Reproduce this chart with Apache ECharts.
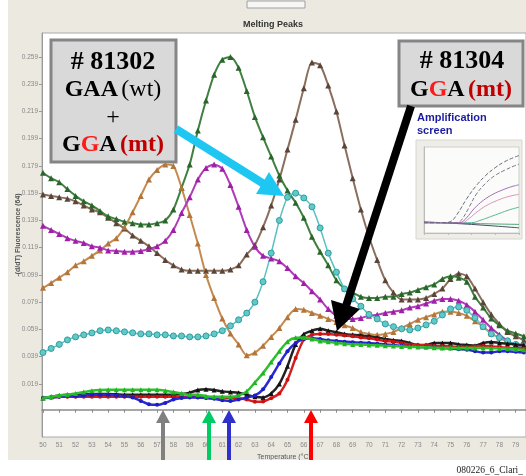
<!DOCTYPE html>
<html><head><meta charset="utf-8">
<script src="https://cdn.jsdelivr.net/npm/echarts@6/dist/echarts.min.js"></script>
<style>html,body{margin:0;padding:0;background:#fff}#c{width:526px;height:476px}</style>
</head><body><div id="c"></div>
<script>
// Temperature (°C) sample points
var temps = [50,50.5,51,51.5,52,52.5,53,53.5,54,54.5,55,55.5,56,56.5,57,57.5,58,58.5,59,59.5,
  60,60.5,61,61.5,62,62.5,63,63.5,64,64.5,65,65.5,66,66.5,67,67.5,68,68.5,69,69.5,
  70,70.5,71,71.5,72,72.5,73,73.5,74,74.5,75,75.5,76,76.5,77,77.5,78,78.5,79,79.5];
var xTicks = [50,51,52,53,54,55,56,57,58,59,60,61,62,63,64,65,66,67,68,69,70,71,72,73,74,75,76,77,78,79];
var yTicks = [0.019,0.039,0.059,0.079,0.099,0.119,0.139,0.159,0.179,0.199,0.219,0.239,0.259];

var darkGreen = [0.174,0.170,0.167,0.162,0.157,0.153,0.150,0.146,0.142,0.140,0.138,0.137,0.136,0.136,0.137,0.139,0.147,0.163,0.180,0.205,
  0.227,0.246,0.257,0.259,0.251,0.234,0.215,0.200,0.186,0.172,0.161,0.152,0.141,0.127,0.116,0.106,0.095,0.089,0.086,0.083,
  0.082,0.082,0.083,0.083,0.085,0.086,0.088,0.090,0.092,0.096,0.098,0.097,0.094,0.083,0.075,0.067,0.062,0.058,0.056,0.054];
var darkBrown = [0.158,0.157,0.156,0.155,0.153,0.150,0.147,0.145,0.141,0.137,0.133,0.128,0.124,0.120,0.115,0.110,0.106,0.103,0.102,0.102,
  0.102,0.102,0.102,0.103,0.106,0.114,0.121,0.134,0.150,0.169,0.191,0.213,0.236,0.255,0.253,0.238,0.219,0.194,0.170,0.147,
  0.127,0.110,0.095,0.086,0.081,0.081,0.081,0.082,0.085,0.089,0.096,0.100,0.098,0.089,0.079,0.070,0.063,0.057,0.054,0.051];
var orange = [0.0895,0.093,0.097,0.101,0.106,0.109,0.113,0.117,0.122,0.126,0.134,0.145,0.157,0.169,0.176,0.180,0.179,0.163,0.143,0.122,
  0.099,0.082,0.067,0.056,0.048,0.040,0.042,0.047,0.0535,0.060,0.068,0.074,0.0735,0.071,0.069,0.0667,0.0645,0.062,0.060,0.057,
  0.0557,0.055,0.0557,0.057,0.060,0.063,0.066,0.068,0.070,0.072,0.072,0.071,0.069,0.065,0.061,0.056,0.053,0.050,0.048,0.046];
var purple = [0.135,0.132,0.129,0.126,0.124,0.1225,0.120,0.119,0.117,0.1166,0.116,0.116,0.1166,0.118,0.120,0.124,0.132,0.1445,0.156,0.169,
  0.1775,0.180,0.177,0.165,0.149,0.132,0.1196,0.113,0.111,0.109,0.104,0.098,0.093,0.087,0.081,0.074,0.069,0.0667,0.0667,0.0674,
  0.069,0.0697,0.071,0.072,0.073,0.075,0.076,0.078,0.080,0.0814,0.0814,0.080,0.077,0.072,0.066,0.060,0.055,0.0506,0.047,0.0447];
var cyan = [0.042,0.045,0.048,0.0513,0.0535,0.055,0.0564,0.058,0.0586,0.058,0.0572,0.0565,0.0557,0.0557,0.055,0.055,0.0542,0.0542,0.0535,0.0535,
  0.0542,0.0557,0.058,0.0616,0.066,0.071,0.079,0.094,0.115,0.139,0.156,0.159,0.1555,0.149,0.1335,0.115,0.101,0.0887,0.0814,0.076,
  0.070,0.0667,0.063,0.061,0.0594,0.0586,0.060,0.0623,0.065,0.0696,0.074,0.0755,0.073,0.0675,0.061,0.0557,0.053,0.0506,0.048,0.047];
var green = [0.0087,0.0095,0.0105,0.011,0.012,0.013,0.014,0.0145,0.0146,0.0146,0.0146,0.0146,0.0146,0.0146,0.0146,0.014,0.013,0.012,0.011,0.011,
  0.010,0.0095,0.0095,0.0095,0.0105,0.0135,0.020,0.027,0.035,0.043,0.050,0.0528,0.053,0.052,0.0505,0.050,0.049,0.0485,0.048,0.048,
  0.0476,0.0473,0.047,0.0468,0.0465,0.0462,0.046,0.0458,0.0455,0.0454,0.0454,0.0454,0.0454,0.0454,0.0454,0.0452,0.045,0.0448,0.0445,0.044];
var blue = [0.0087,0.009,0.0095,0.010,0.010,0.0105,0.011,0.011,0.011,0.0105,0.010,0.009,0.0065,0.004,0.0036,0.005,0.0075,0.0087,0.009,0.009,
  0.0087,0.008,0.007,0.0065,0.0075,0.009,0.0105,0.015,0.024,0.034,0.043,0.049,0.052,0.0525,0.052,0.051,0.0505,0.050,0.0495,0.0492,
  0.049,0.0485,0.048,0.0475,0.047,0.0465,0.046,0.0458,0.0455,0.0452,0.045,0.0445,0.044,0.043,0.042,0.042,0.043,0.043,0.0425,0.042];
var black = [0.0087,0.0095,0.0105,0.011,0.011,0.0113,0.0115,0.0115,0.0115,0.0113,0.011,0.011,0.011,0.011,0.011,0.011,0.011,0.0115,0.0125,0.0145,
  0.015,0.0145,0.0135,0.013,0.0125,0.011,0.0095,0.009,0.012,0.019,0.032,0.048,0.0555,0.058,0.0594,0.058,0.057,0.0557,0.055,0.0545,
  0.054,0.053,0.052,0.051,0.0505,0.049,0.0476,0.0476,0.049,0.049,0.049,0.048,0.0476,0.047,0.049,0.0498,0.049,0.0485,0.048,0.0476];
var red = [0.0087,0.009,0.0095,0.0095,0.0095,0.0095,0.0095,0.0095,0.0095,0.0095,0.0095,0.0095,0.0095,0.0095,0.0095,0.0095,0.0095,0.0095,0.0095,0.0092,
  0.009,0.009,0.009,0.0088,0.0087,0.0075,0.0058,0.006,0.0085,0.012,0.022,0.038,0.0515,0.055,0.0557,0.0557,0.055,0.0545,0.054,0.053,
  0.0525,0.0515,0.0505,0.050,0.049,0.048,0.0476,0.0473,0.047,0.0468,0.0465,0.0462,0.046,0.0465,0.047,0.0465,0.046,0.0455,0.045,0.045];

// inset "Amplification screen" curves: [cycle, relative fluorescence]
var ampGray1 = [[0,0.12],[8,0.12],[11,0.13],[14,0.22],[18,0.40],[22,0.55],[26,0.67],[30,0.76],[34,0.83],[38,0.88],[40,0.90]];
var ampGray2 = [[0,0.12],[14,0.12],[16,0.16],[19,0.30],[22,0.45],[26,0.58],[30,0.67],[34,0.73],[38,0.78],[40,0.80]];
var ampPurple = [[0,0.12],[15,0.12],[18,0.18],[21,0.28],[25,0.38],[29,0.45],[33,0.50],[37,0.54],[40,0.56]];
var ampPink = [[0,0.12],[16,0.12],[19,0.17],[23,0.26],[27,0.33],[31,0.38],[35,0.42],[40,0.45]];
var ampTeal = [[0,0.12],[20,0.12],[24,0.15],[28,0.19],[32,0.23],[36,0.27],[40,0.30]];
var ampFlatDark = [[0,0.13],[20,0.10],[40,0.06]];
var ampFlatGreen = [[0,0.12],[40,0.10]];

function mk(arr, symbol, size, fill, line, lw, border, z) {
  return {
    type: 'line', xAxisIndex: 0, yAxisIndex: 0,
    data: temps.map(function (t, i) { return [t, arr[i]]; }),
    smooth: 0.25, symbol: symbol, symbolSize: size, showSymbol: true,
    itemStyle: { color: fill, borderColor: border || fill, borderWidth: border ? 1 : 0 },
    lineStyle: { color: line, width: lw },
    z: z, animation: false, silent: true
  };
}
function amp(d, color, dashed) {
  return { type: 'line', xAxisIndex: 1, yAxisIndex: 1, data: d, smooth: 0.4, showSymbol: false, symbol: 'none',
    lineStyle: { color: color, width: 1, type: dashed ? 'dashed' : 'solid' }, z: 30, animation: false, silent: true };
}

var chart = echarts.init(document.getElementById('c'), null, { renderer: 'canvas' });

var serif = '"Liberation Serif", "Times New Roman", serif';
function arrowUp(cx, color) {
  return [
    { type: 'rect', shape: { x: cx - 2, y: 421, width: 4, height: 39 }, style: { fill: color }, z: 100 },
    { type: 'polygon', shape: { points: [[cx, 410], [cx - 7, 423], [cx + 7, 423]] }, style: { fill: color }, z: 100 }
  ];
}

var graphics = [
  { type: 'rect', shape: { x: 0, y: 0, width: 8, height: 476 }, style: { fill: '#fff' }, z: 1 },
  { type: 'rect', shape: { x: 0, y: 460, width: 526, height: 16 }, style: { fill: '#fff' }, z: 1 },
  { type: 'rect', shape: { x: 247, y: 1, width: 58, height: 7 }, style: { fill: '#f6f6f6', stroke: '#a0a0a0', lineWidth: 1 }, z: 2 },
  { type: 'text', x: 523, y: 470, style: { text: '080226_6_Clari_', font: '9.5px ' + serif, fill: '#222', align: 'right', verticalAlign: 'middle' }, z: 2 },
  // box #81302
  { type: 'rect', shape: { x: 51, y: 40, width: 125, height: 122 }, style: { fill: '#d9d9d9', stroke: '#858585', lineWidth: 3 }, z: 100 },
  { type: 'text', x: 113, y: 62, style: { text: '# 81302', font: 'bold 26px ' + serif, fill: '#000', align: 'center', verticalAlign: 'middle' }, z: 101 },
  { type: 'text', x: 113, y: 90, style: { text: '{b|GAA} {n|(wt)}', align: 'center', verticalAlign: 'middle',
      rich: { b: { fontFamily: serif, fontSize: 24, fontWeight: 'bold', fill: '#000' }, n: { fontFamily: serif, fontSize: 24, fill: '#000' } } }, z: 101 },
  { type: 'text', x: 113, y: 118, style: { text: '+', font: '24px ' + serif, fill: '#000', align: 'center', verticalAlign: 'middle' }, z: 101 },
  { type: 'text', x: 113, y: 145, style: { text: '{b|G}{r|G}{b|A} {m|(mt)}', align: 'center', verticalAlign: 'middle',
      rich: { b: { fontFamily: serif, fontSize: 24, fontWeight: 'bold', fill: '#000' }, r: { fontFamily: serif, fontSize: 24, fontWeight: 'bold', fill: '#ff1a1a' }, m: { fontFamily: serif, fontSize: 24, fontWeight: 'bold', fill: '#c00000' } } }, z: 101 },
  // box #81304
  { type: 'rect', shape: { x: 399, y: 41, width: 124, height: 65 }, style: { fill: '#d9d9d9', stroke: '#858585', lineWidth: 3 }, z: 100 },
  { type: 'text', x: 462, y: 61, style: { text: '# 81304', font: 'bold 26px ' + serif, fill: '#000', align: 'center', verticalAlign: 'middle' }, z: 101 },
  { type: 'text', x: 461, y: 90, style: { text: '{b|G}{r|G}{b|A} {m|(mt)}', align: 'center', verticalAlign: 'middle',
      rich: { b: { fontFamily: serif, fontSize: 24, fontWeight: 'bold', fill: '#000' }, r: { fontFamily: serif, fontSize: 24, fontWeight: 'bold', fill: '#ff1a1a' }, m: { fontFamily: serif, fontSize: 24, fontWeight: 'bold', fill: '#c00000' } } }, z: 101 },
  // amplification label + inset frame
  { type: 'text', x: 417, y: 118, style: { text: 'Amplification', font: 'bold 11px "Liberation Sans", Arial, sans-serif', fill: '#1c1ca0', align: 'left', verticalAlign: 'middle' }, z: 101 },
  { type: 'text', x: 417, y: 131, style: { text: 'screen', font: 'bold 11px "Liberation Sans", Arial, sans-serif', fill: '#1c1ca0', align: 'left', verticalAlign: 'middle' }, z: 101 },
  { type: 'rect', shape: { x: 416, y: 140, width: 106, height: 99 }, style: { fill: '#efede7', stroke: '#d8d6d0', lineWidth: 1 }, z: 5 },
  // cyan arrow
  { type: 'line', shape: { x1: 176, y1: 129, x2: 264, y2: 184 }, style: { stroke: '#1ec6f2', lineWidth: 8 }, z: 100 },
  { type: 'polygon', shape: { points: [[284, 196], [256, 194], [269, 172]] }, style: { fill: '#1ec6f2' }, z: 100 },
  // black arrow
  { type: 'line', shape: { x1: 411, y1: 106, x2: 346, y2: 306 }, style: { stroke: '#000', lineWidth: 8 }, z: 100 },
  { type: 'polygon', shape: { points: [[337, 331], [331, 300], [360, 309]] }, style: { fill: '#000' }, z: 100 }
].concat(arrowUp(163, '#808080'), arrowUp(209, '#00cc66'), arrowUp(229, '#3030cc'), arrowUp(311, '#ff0000'));

var option = {
  backgroundColor: '#ece9e1',
  animation: false,
  title: { text: 'Melting Peaks', left: 238, top: 15, textStyle: { fontSize: 9, fontWeight: 'bold', color: '#333', fontFamily: '"Liberation Sans", Arial, sans-serif' } },
  grid: [
    { left: 42, right: 0, top: 33, bottom: 39, show: true, backgroundColor: '#ffffff', borderColor: '#aaaaaa', borderWidth: 1 },
    { left: 424, top: 147, width: 95, height: 86, show: true, backgroundColor: '#fbfbfa', borderColor: '#cfcfcf', borderWidth: 1, z: 10 }
  ],
  xAxis: [
    { type: 'value', gridIndex: 0, min: 49.94, max: 79.63,
      name: 'Temperature (°C)', nameLocation: 'middle', nameGap: 17, nameMoveOverlap: false,
      nameTextStyle: { fontSize: 7, color: '#555', fontFamily: '"Liberation Sans", Arial, sans-serif' },
      axisLine: { show: true, lineStyle: { color: '#8a8a8a', width: 1.5 } },
      axisTick: { show: true, length: 3, lineStyle: { color: '#8a8a8a' }, customValues: xTicks },
      axisLabel: { fontSize: 6.5, color: '#888', margin: 5, customValues: xTicks, fontFamily: '"Liberation Sans", Arial, sans-serif' },
      splitLine: { show: false } },
    { type: 'value', gridIndex: 1, min: 0, max: 40, axisLine: { show: true, lineStyle: { color: '#bbb' } },
      axisTick: { show: true, length: 2, lineStyle: { color: '#bbb' } }, axisLabel: { show: false }, splitLine: { show: false }, z: 11 }
  ],
  yAxis: [
    { type: 'value', gridIndex: 0, min: -0.02, max: 0.2766,
      name: '-(d/dT) Fluorescence (64)', nameLocation: 'middle', nameGap: 20, nameRotate: 90, nameMoveOverlap: false,
      nameTextStyle: { fontSize: 7, color: '#555', fontWeight: 'bold', fontFamily: '"Liberation Sans", Arial, sans-serif' },
      axisLine: { show: true, lineStyle: { color: '#9a9a9a', width: 1 } },
      axisTick: { show: true, length: 3, lineStyle: { color: '#9a9a9a' }, customValues: yTicks },
      axisLabel: { fontSize: 6.5, color: '#888', margin: 4, customValues: yTicks,
        formatter: function (v) { return v.toFixed(3); }, fontFamily: '"Liberation Sans", Arial, sans-serif' },
      splitLine: { show: false } },
    { type: 'value', gridIndex: 1, min: 0, max: 1, axisLine: { show: true, lineStyle: { color: '#bbb' } },
      axisTick: { show: false }, axisLabel: { show: false }, splitLine: { show: false }, z: 11 }
  ],
  series: [
    mk(darkBrown, 'triangle', 6, '#5b4536', '#8a6e5e', 2, null, 3),
    mk(darkGreen, 'triangle', 6, '#2a662a', '#3f7f3f', 2, null, 3),
    mk(orange, 'triangle', 6, '#b3763a', '#c48a50', 2, null, 3),
    mk(purple, 'triangle', 6, '#a01fa8', '#b03cb8', 2, null, 3),
    mk(cyan, 'circle', 6, '#62c8c8', '#5cc0c0', 1.5, '#2c9e9e', 3),
    mk(black, 'triangle', 5, '#111111', '#222222', 2.5, null, 4),
    mk(red, 'circle', 4, '#cc1010', '#d22020', 2.5, null, 4),
    mk(blue, 'circle', 4, '#1c1cc8', '#2a2ad0', 2.5, null, 4),
    mk(green, 'triangle', 5, '#22b422', '#2ec02e', 2.5, null, 5),
    amp(ampFlatGreen, '#4aa878', false),
    amp(ampFlatDark, '#444c60', false),
    amp(ampTeal, '#55b8a0', false),
    amp(ampPink, '#d898b8', false),
    amp(ampPurple, '#a070b8', false),
    amp(ampGray2, '#7a7a8a', true),
    amp(ampGray1, '#6a6a7a', true)
  ],
  graphic: { elements: graphics }
};
chart.setOption(option);
</script>
</body></html>
